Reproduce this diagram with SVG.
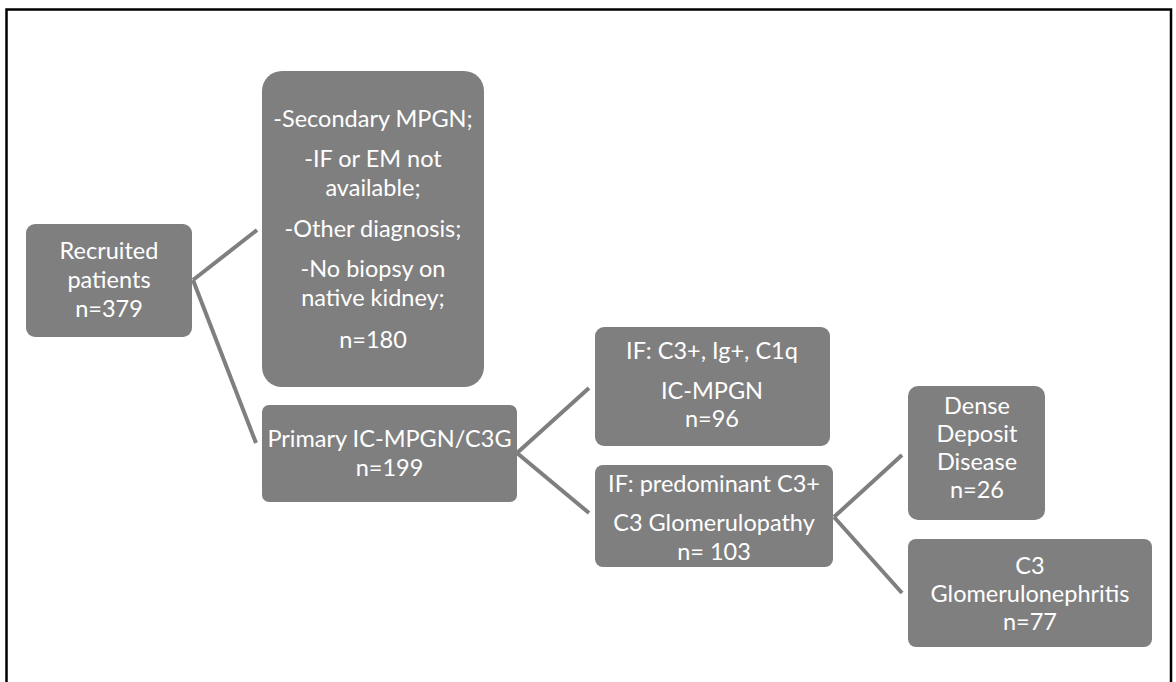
<svg xmlns="http://www.w3.org/2000/svg" width="1176" height="682" viewBox="0 0 1176 682">
  <style>
    .box { fill: #7f7f7f; }
    .t { font-family: Lato, "Open Sans", "Liberation Sans", sans-serif; font-size: 23.5px; fill: #ffffff; text-anchor: middle; }
    .conn { stroke: #7f7f7f; stroke-width: 4; fill: none; stroke-linecap: butt; }
    .frame { stroke: #000000; stroke-width: 2.5; fill: none; }
  </style>
  <rect width="1176" height="682" fill="#ffffff"/>
  <path class="frame" d="M6.5,690 V9.5 H1171 V690"/>

  <g id="connectors">
    <line class="conn" x1="193" y1="280" x2="257" y2="230"/>
    <line class="conn" x1="193" y1="280" x2="256" y2="443"/>
    <line class="conn" x1="517" y1="453" x2="589" y2="388"/>
    <line class="conn" x1="517" y1="453" x2="589" y2="513"/>
    <line class="conn" x1="834" y1="517" x2="902" y2="455"/>
    <line class="conn" x1="834" y1="517" x2="902" y2="593"/>
  </g>

  <g id="recruited">
    <rect class="box" x="26" y="224" width="166" height="113" rx="9"/>
    <text class="t" x="109" y="259">Recruited</text>
    <text class="t" x="109" y="288">patients</text>
    <text class="t" x="109" y="317">n=379</text>
  </g>

  <g id="excluded">
    <rect class="box" x="262" y="71" width="222" height="316" rx="20"/>
    <text class="t" x="373" y="127">-Secondary MPGN;</text>
    <text class="t" x="373" y="167">-IF or EM not</text>
    <text class="t" x="373" y="196">available;</text>
    <text class="t" x="373" y="237">-Other diagnosis;</text>
    <text class="t" x="373" y="277">-No biopsy on</text>
    <text class="t" x="373" y="306">native kidney;</text>
    <text class="t" x="373" y="348">n=180</text>
  </g>

  <g id="primary">
    <rect class="box" x="262" y="405" width="255" height="97" rx="7"/>
    <text class="t" x="389.5" y="447">Primary IC-MPGN/C3G</text>
    <text class="t" x="389.5" y="476">n=199</text>
  </g>

  <g id="ic-mpgn">
    <rect class="box" x="595" y="327" width="235" height="119" rx="9"/>
    <text class="t" x="712" y="359">IF: C3+, Ig+, C1q</text>
    <text class="t" x="712" y="399">IC-MPGN</text>
    <text class="t" x="712" y="427">n=96</text>
  </g>

  <g id="c3g">
    <rect class="box" x="595" y="465" width="238" height="102" rx="8"/>
    <text class="t" x="714" y="492">IF: predominant C3+</text>
    <text class="t" x="714" y="531">C3 Glomerulopathy</text>
    <text class="t" x="714" y="560">n= 103</text>
  </g>

  <g id="ddd">
    <rect class="box" x="908" y="386" width="137" height="134" rx="10"/>
    <text class="t" x="977" y="414">Dense</text>
    <text class="t" x="977" y="442">Deposit</text>
    <text class="t" x="977" y="470">Disease</text>
    <text class="t" x="977" y="498">n=26</text>
  </g>

  <g id="c3gn">
    <rect class="box" x="908" y="539" width="244" height="108" rx="8"/>
    <text class="t" x="1030" y="574">C3</text>
    <text class="t" x="1030" y="602">Glomerulonephritis</text>
    <text class="t" x="1030" y="630">n=77</text>
  </g>
</svg>
